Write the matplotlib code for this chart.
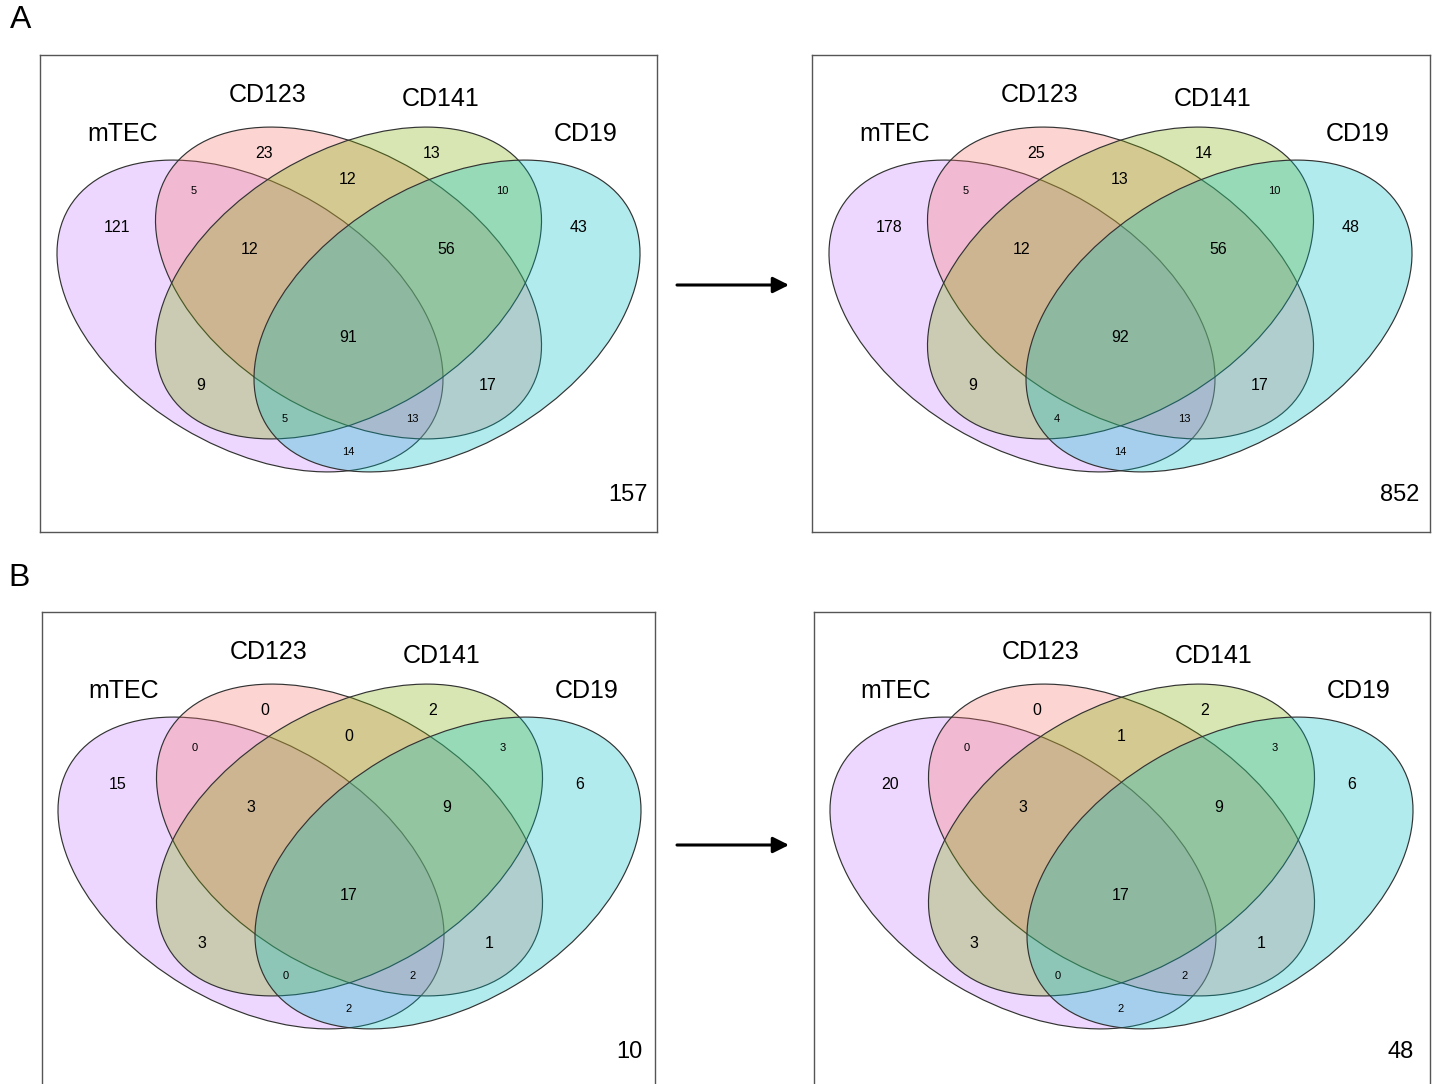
import numpy as np
import matplotlib
matplotlib.use("Agg")
import matplotlib.pyplot as plt
from matplotlib.patches import Ellipse

plt.rcParams['font.family'] = ['Liberation Sans', 'DejaVu Sans']

# set names and region order
sets = ['mTEC', 'CD123', 'CD141', 'CD19']
regions = ['mTEC', 'CD123', 'CD141', 'CD19',
           'mTEC&CD123', 'CD123&CD141', 'CD141&CD19',
           'mTEC&CD123&CD141', 'CD123&CD141&CD19', 'all',
           'mTEC&CD141', 'CD123&CD19',
           'mTEC&CD141&CD19', 'mTEC&CD123&CD19', 'mTEC&CD19']

# counts per panel (same region order), plus the "outside" count
a_before = [121, 23, 13, 43, 5, 12, 10, 12, 56, 91, 9, 17, 5, 13, 14]
a_after = [178, 25, 14, 48, 5, 13, 10, 12, 56, 92, 9, 17, 4, 13, 14]
b_before = [15, 0, 2, 6, 0, 0, 3, 3, 9, 17, 3, 1, 0, 2, 2]
b_after = [20, 0, 2, 6, 0, 1, 3, 3, 9, 17, 3, 1, 0, 2, 2]
outside = [157, 852, 10, 48]

colors = ['#C77CFF', '#F8766D', '#7CAE00', '#00BFC4']

# ellipse layout (pixel units, y downwards, relative to panel origin)
centers = [(210, 261), (308.5, 228), (308.5, 228), (407, 261)]
angles = [30.9, 30.9, -30.9, -30.9]
semi_a, semi_b = 210.9, 130.7

set_label_pos = [(83, 79), (228, 40), (401, 44), (546, 79)]
region_pos = [(77, 172), (224, 98), (392, 98), (539, 172),
              (154, 136), (308, 124), (462, 136),
              (210, 195), (406, 195), (308, 283),
              (161, 331), (448, 331),
              (245, 364), (372, 364), (308, 397)]
small = {'mTEC&CD123', 'CD141&CD19', 'mTEC&CD141&CD19', 'mTEC&CD123&CD19', 'mTEC&CD19'}

W, H = 1434, 1084
fig = plt.figure(figsize=(W / 100, H / 100), dpi=100)

# (box x0, box x1, box top, venn origin x)
panels = [(40, 657, 55, 40), (812, 1430, 55, 812),
          (42, 655, 612, 41), (814, 1430, 612, 813)]
data = [a_before, a_after, b_before, b_after]
box_h = 477


def draw_venn(ax, counts, out):
    for (cx, cy), ang, col in zip(centers, angles, colors):
        ax.add_patch(Ellipse((cx, cy), 2 * semi_a, 2 * semi_b, angle=ang,
                             facecolor=matplotlib.colors.to_rgba(col, 0.3),
                             edgecolor='#333333', lw=0.85))
    for name, (x, y) in zip(sets, set_label_pos):
        ax.text(x, y, name, ha='center', va='center', fontsize=18)
    for reg, v, (x, y) in zip(regions, counts, region_pos):
        ax.text(x, y, str(v), ha='center', va='center',
                fontsize=8 if reg in small else 11.5)
    ax.text(588, 440, str(out), ha='center', va='center', fontsize=17)


for (x0, x1, top, ox), counts, out in zip(panels, data, outside):
    ax = fig.add_axes([x0 / W, 1 - (top + box_h) / H, (x1 - x0) / W, box_h / H])
    ax.set_xlim(x0 - ox, x1 - ox)
    ax.set_ylim(box_h, 0)
    ax.set_xticks([])
    ax.set_yticks([])
    for s in ax.spines.values():
        s.set_color('#555555')
        s.set_linewidth(1.0)
    draw_venn(ax, counts, out)

fig.text(21 / W, 1 - 20 / H, 'A', ha='center', va='center', fontsize=23)
fig.text(19 / W, 1 - 578 / H, 'B', ha='center', va='center', fontsize=23)

for y in [285, 845]:
    fig.add_artist(matplotlib.patches.FancyArrowPatch(
        (677 / W, 1 - y / H), (789 / W, 1 - y / H), transform=fig.transFigure,
        arrowstyle='-|>', mutation_scale=24, lw=2.2, color='black',
        shrinkA=0, shrinkB=0))

fig.savefig('out.png', dpi=100)
